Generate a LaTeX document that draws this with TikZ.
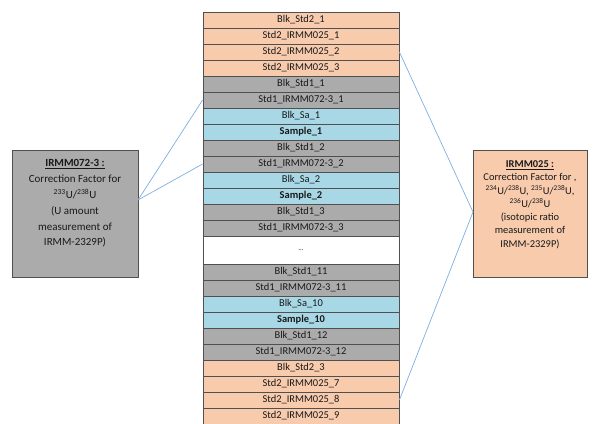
\documentclass[tikz,border=0pt]{standalone}
\usepackage{fontspec}
\setmainfont{Carlito}
\definecolor{rowor}{HTML}{F8CBAD}
\definecolor{rowbl}{HTML}{A8D8E6}
\definecolor{rowgr}{HTML}{ABABAB}
\definecolor{edgec}{HTML}{505050}
\definecolor{linkc}{HTML}{7EAEDF}
\begin{document}
\begin{tikzpicture}[x=1bp,y=-1bp,
  rowbox/.style={draw=edgec,line width=0.8pt,minimum width=196bp,minimum height=16bp,inner sep=0pt,font=\fontsize{10.5}{12}\selectfont,text=black!90},
  orangerow/.style={rowbox,fill=rowor},
  bluerow/.style={rowbox,fill=rowbl},
  grayrow/.style={rowbox,fill=rowgr},
  sidebox/.style={draw=edgec,line width=0.8pt,minimum height=127bp,inner sep=0pt,align=center,text=black!90},
  link/.style={draw=linkc,line width=0.7pt}]
\useasboundingbox (0,0) rectangle (598,423);
\node[orangerow] (r1) at (301,20) {Blk\_Std2\_1};
\node[orangerow] (r2) at (301,36) {Std2\_IRMM025\_1};
\node[orangerow] (r3) at (301,52) {Std2\_IRMM025\_2};
\node[orangerow] (r4) at (301,68) {Std2\_IRMM025\_3};
\node[grayrow] (r5) at (301,84) {Blk\_Std1\_1};
\node[grayrow] (r6) at (301,100) {Std1\_IRMM072-3\_1};
\node[bluerow] (r7) at (301,116) {Blk\_Sa\_1};
\node[bluerow] (r8) at (301,132) {\textbf{Sample\_1}};
\node[grayrow] (r9) at (301,148) {Blk\_Std1\_2};
\node[grayrow] (r10) at (301,164) {Std1\_IRMM072-3\_2};
\node[bluerow] (r11) at (301,180) {Blk\_Sa\_2};
\node[bluerow] (r12) at (301,196) {\textbf{Sample\_2}};
\node[grayrow] (r13) at (301,212) {Blk\_Std1\_3};
\node[grayrow] (r14) at (301,228) {Std1\_IRMM072-3\_3};
\node[rowbox,fill=white,minimum height=28bp,font=\fontsize{7}{8}\selectfont] (r15) at (301,250) {...};
\node[grayrow] (r16) at (301,272) {Blk\_Std1\_11};
\node[grayrow] (r17) at (301,288) {Std1\_IRMM072-3\_11};
\node[bluerow] (r18) at (301,304) {Blk\_Sa\_10};
\node[bluerow] (r19) at (301,320) {\textbf{Sample\_10}};
\node[grayrow] (r20) at (301,336) {Blk\_Std1\_12};
\node[grayrow] (r21) at (301,352) {Std1\_IRMM072-3\_12};
\node[orangerow] (r22) at (301,368) {Blk\_Std2\_3};
\node[orangerow] (r23) at (301,384) {Std2\_IRMM025\_7};
\node[orangerow] (r24) at (301,400) {Std2\_IRMM025\_8};
\node[orangerow] (r25) at (301,416) {Std2\_IRMM025\_9};

\node[sidebox,fill=rowgr,minimum width=126bp,font=\fontsize{11}{16}\selectfont] (lbox) at (75,213.5)
 {\underline{\textbf{IRMM072-3 :}}\\Correction Factor for\\\textsuperscript{233}U/\textsuperscript{238}U\\(U amount\\measurement of\\IRMM-2329P)\\[6bp]};
\node[sidebox,fill=rowor,minimum width=114bp,font=\fontsize{10.5}{13.3}\selectfont] (rbox) at (530,213.5)
 {\underline{\textbf{IRMM025 :}}\\Correction Factor for ,\\\textsuperscript{234}U/\textsuperscript{238}U, \textsuperscript{235}U/\textsuperscript{238}U,\\\textsuperscript{236}U/\textsuperscript{238}U\\(isotopic ratio\\measurement of\\IRMM-2329P)\\[6bp]};

\coordinate (lj) at (138,200);
\coordinate (rj) at (473,212);
\draw[link] (lj) -- (r6.west);
\draw[link] (lj) -- (r10.west);
\draw[link] (rj) -- (r3.east);
\draw[link] (rj) -- (r24.east);
\end{tikzpicture}
\end{document}
